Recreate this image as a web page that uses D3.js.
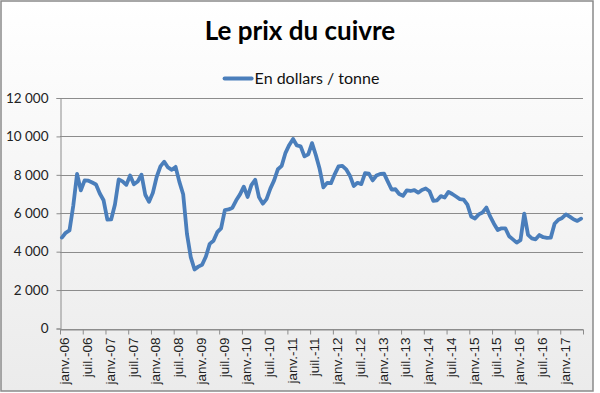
<!DOCTYPE html>
<html>
<head>
<meta charset="utf-8">
<script src="https://cdn.jsdelivr.net/npm/d3@7"></script>
<style>
  body { margin: 0; background: #fff; }
  svg { display: block; font-family: Lato, "Open Sans", sans-serif; }
</style>
</head>
<body>
<svg id="chart"></svg>
<script>
// prix mensuel du cuivre, janv. 2006 -> juin 2017
var prices2006 = [4734, 4982, 5103, 6388, 8046, 7196, 7711, 7695, 7602, 7500, 7029, 6675];
var prices2007 = [5669, 5676, 6452, 7766, 7662, 7479, 7966, 7510, 7652, 8008, 6963, 6595];
var prices2008 = [7061, 7888, 8439, 8685, 8383, 8260, 8414, 7634, 6990, 4926, 3717, 3072];
var prices2009 = [3221, 3315, 3749, 4407, 4569, 5014, 5216, 6165, 6196, 6288, 6676, 6982];
var prices2010 = [7386, 6849, 7463, 7745, 6838, 6499, 6735, 7284, 7709, 8292, 8470, 9147];
var prices2011 = [9556, 9868, 9530, 9483, 8960, 9067, 9650, 9031, 8315, 7350, 7582, 7566];
var prices2012 = [8040, 8441, 8471, 8289, 7956, 7423, 7584, 7516, 8088, 8062, 7711, 7967];
var prices2013 = [8047, 8061, 7646, 7234, 7250, 7001, 6907, 7186, 7159, 7203, 7071, 7215];
var prices2014 = [7291, 7149, 6650, 6674, 6891, 6821, 7113, 7002, 6872, 6737, 6713, 6446];
var prices2015 = [5831, 5729, 5940, 6042, 6295, 5833, 5457, 5127, 5217, 5216, 4800, 4639];
var prices2016 = [4472, 4599, 5980, 4873, 4696, 4642, 4864, 4751, 4722, 4731, 5450, 5660];
var prices2017 = [5755, 5941, 5825, 5684, 5600, 5720];

var prices = [].concat(prices2006, prices2007, prices2008, prices2009, prices2010, prices2011,
                       prices2012, prices2013, prices2014, prices2015, prices2016, prices2017);

var xLabels = ["janv.-06", "juil.-06", "janv.-07", "juil.-07", "janv.-08", "juil.-08",
               "janv.-09", "juil.-09", "janv.-10", "juil.-10", "janv.-11", "juil.-11",
               "janv.-12", "juil.-12", "janv.-13", "juil.-13", "janv.-14", "juil.-14",
               "janv.-15", "juil.-15", "janv.-16", "juil.-16", "janv.-17"];
var yTicks = [0, 2000, 4000, 6000, 8000, 10000, 12000];

var title = "Le prix du cuivre",
    seriesName = "En dollars / tonne";

var width = 600, height = 393;
var margin = {top: 98, right: 17, bottom: 64.5, left: 60};

var fr = d3.formatLocale({decimal: ",", thousands: "\u00a0", grouping: [3], currency: ["", " €"]});
var fmt = fr.format(",d");

var svg = d3.select("#chart")
    .attr("width", width)
    .attr("height", height);

var defs = svg.append("defs");
var grad = defs.append("linearGradient")
    .attr("id", "bg")
    .attr("x1", 0).attr("y1", 0).attr("x2", 0).attr("y2", 1);
grad.append("stop").attr("offset", "0%").attr("stop-color", "#ffffff");
grad.append("stop").attr("offset", "100%").attr("stop-color", "#ebebeb");

svg.append("rect")
    .attr("x", 1).attr("y", 1)
    .attr("width", 592).attr("height", 390)
    .attr("fill", "url(#bg)")
    .attr("stroke", "#8a8a8a")
    .attr("stroke-width", 1.5);

var xScale = d3.scaleLinear()
    .domain([0, prices.length])
    .range([margin.left, width - margin.right]);
var yScale = d3.scaleLinear()
    .domain([0, 12000])
    .range([height - margin.bottom, margin.top]);

// grille
svg.append("g")
    .selectAll("line")
    .data(yTicks)
    .join("line")
    .attr("x1", margin.left)
    .attr("x2", width - margin.right)
    .attr("y1", d => Math.round(yScale(d)) + 0.5)
    .attr("y2", d => Math.round(yScale(d)) + 0.5)
    .attr("stroke", "#8c8c8c")
    .attr("stroke-width", 1);

// axe y
var yAxis = svg.append("g")
    .attr("transform", "translate(" + (margin.left + 0.5) + ",0)")
    .call(d3.axisLeft(yScale).tickValues(yTicks).tickFormat(fmt).tickSize(4).tickPadding(8))
    .call(g => g.select(".domain").attr("stroke", "#8c8c8c"))
    .call(g => g.selectAll(".tick line").attr("stroke", "#8c8c8c"))
    .call(g => g.selectAll(".tick text")
        .attr("fill", "#222")
        .style("font-family", "Lato, sans-serif")
        .style("font-size", "13.5px"));

// axe x
var xTickVals = d3.range(0, prices.length + 1, 6);
var xAxis = svg.append("g")
    .attr("transform", "translate(0," + (Math.round(yScale(0)) + 0.5) + ")")
    .call(d3.axisBottom(xScale).tickValues(xTickVals).tickFormat("").tickSize(5).tickSizeOuter(0))
    .call(g => g.select(".domain").attr("stroke", "#8c8c8c"))
    .call(g => g.selectAll(".tick line").attr("stroke", "#8c8c8c"));

xAxis.selectAll(".xlabel")
    .data(xLabels)
    .join("text")
    .attr("class", "xlabel")
    .attr("transform", (d, i) => "translate(" + xScale(i * 6 + 0.5) + ",8) rotate(-90)")
    .attr("dy", "0.55em")
    .attr("text-anchor", "end")
    .attr("fill", "#222")
    .style("font-size", "13.5px")
    .text(d => d);

// courbe
var line = d3.line()
    .x((d, i) => xScale(i + 0.5))
    .y(d => yScale(d));

svg.append("path")
    .datum(prices)
    .attr("fill", "none")
    .attr("stroke", "#4a7ebb")
    .attr("stroke-width", 3.8)
    .attr("stroke-linejoin", "round")
    .attr("stroke-linecap", "round")
    .attr("d", line);

// titre
svg.append("text")
    .attr("x", 300)
    .attr("y", 40)
    .attr("text-anchor", "middle")
    .attr("font-weight", "bold")
    .style("font-size", "26px")
    .attr("fill", "#000")
    .text(title);

// légende
var legend = svg.append("g");
legend.append("line")
    .attr("x1", 0).attr("x2", 27)
    .attr("y1", 0).attr("y2", 0)
    .attr("stroke", "#4a7ebb")
    .attr("stroke-width", 4)
    .attr("stroke-linecap", "round");
var legText = legend.append("text")
    .attr("x", 30)
    .attr("dy", "0.35em")
    .style("font-size", "16px")
    .attr("fill", "#111")
    .text(seriesName);
var legW = 30 + legText.node().getComputedTextLength();
legend.attr("transform", "translate(" + (302 - legW / 2) + ",78.5)");
</script>
</body>
</html>
